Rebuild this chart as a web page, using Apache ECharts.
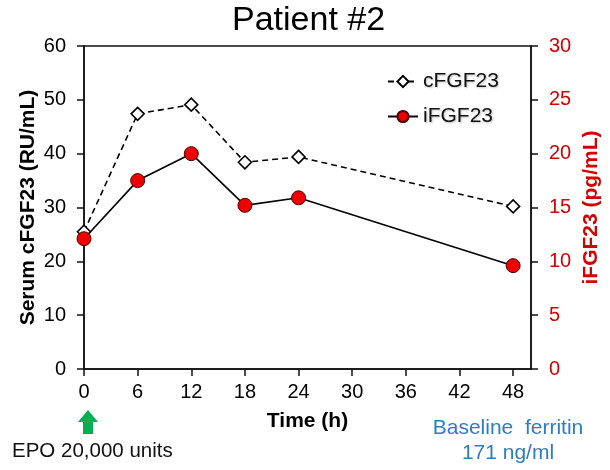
<!DOCTYPE html>
<html>
<head>
<meta charset="utf-8">
<script src="https://cdn.jsdelivr.net/npm/echarts@6/dist/echarts.min.js"></script>
<style>
html,body{margin:0;padding:0;background:#fff;}
#chart{width:610px;height:470px;}
</style>
</head>
<body>
<div id="chart"></div>
<script>
const hours = [0, 6, 12, 18, 24, 48];
const cFGF23 = [25.5, 47.4, 49.1, 38.4, 39.4, 30.2];
const iFGF23 = [12.1, 17.5, 20.0, 15.2, 15.9, 9.6];
const xTicks = [0, 6, 12, 18, 24, 30, 36, 42, 48];
const leftTicks = [0, 10, 20, 30, 40, 50, 60];
const rightTicks = [0, 5, 10, 15, 20, 25, 30];

const FONT = '"Liberation Sans", Arial, sans-serif';
const RED = '#d40000';
const chart = echarts.init(document.getElementById('chart'));

const axisLineStyle = { color: '#111', width: 1.5 };

chart.setOption({
  animation: false,
  backgroundColor: '#fff',
  title: {
    text: 'Patient #2',
    left: 232, top: 4, padding: 0,
    textStyle: { fontFamily: FONT, fontSize: 34, fontWeight: 'normal', color: '#000' }
  },
  grid: {
    left: 84, right: 78, top: 46, bottom: 101,
    show: true, borderColor: '#111', borderWidth: 1.5, backgroundColor: 'transparent'
  },
  legend: {
    orient: 'vertical',
    left: 382, top: 66,
    itemWidth: 30, itemHeight: 14, itemGap: 14,
    data: ['cFGF23', 'iFGF23'],
    textStyle: {
      fontFamily: FONT, fontSize: 21, color: '#111', lineHeight: 21,
      textShadowColor: 'rgba(0,0,0,0.25)', textShadowBlur: 2, textShadowOffsetX: 1, textShadowOffsetY: 1
    }
  },
  xAxis: {
    type: 'value', min: 0, max: 50, interval: 6,
    name: 'Time (h)', nameLocation: 'middle', nameGap: 42, nameMoveOverlap: false,
    nameTextStyle: { fontFamily: FONT, fontSize: 21, fontWeight: 'bold', color: '#000' },
    axisLine: { show: true, lineStyle: axisLineStyle },
    axisTick: { show: true, length: 7, lineStyle: axisLineStyle, customValues: xTicks },
    axisLabel: { fontFamily: FONT, fontSize: 20, color: '#000', margin: 13, customValues: xTicks },
    splitLine: { show: false }
  },
  yAxis: [
    {
      type: 'value', min: 0, max: 60, interval: 10, position: 'left',
      name: 'Serum cFGF23 (RU/mL)', nameLocation: 'middle', nameGap: 45, nameRotate: 90, nameMoveOverlap: false,
      nameTextStyle: { fontFamily: FONT, fontSize: 21, fontWeight: 'bold', color: '#000' },
      axisLine: { show: true, lineStyle: axisLineStyle },
      axisTick: { show: true, length: 7, lineStyle: axisLineStyle, customValues: leftTicks },
      axisLabel: { fontFamily: FONT, fontSize: 20, color: '#000', margin: 18, customValues: leftTicks },
      splitLine: { show: false }
    },
    {
      type: 'value', min: 0, max: 30, interval: 5, position: 'right',
      name: 'iFGF23 (pg/mL)', nameLocation: 'middle', nameGap: 50, nameRotate: 90, nameMoveOverlap: false,
      nameTextStyle: { fontFamily: FONT, fontSize: 21, fontWeight: 'bold', color: RED },
      axisLine: { show: true, lineStyle: axisLineStyle },
      axisTick: { show: true, length: 7, lineStyle: axisLineStyle, customValues: rightTicks },
      axisLabel: { fontFamily: FONT, fontSize: 20, color: RED, margin: 18, customValues: rightTicks },
      splitLine: { show: false }
    }
  ],
  series: [
    {
      name: 'cFGF23', type: 'line', yAxisIndex: 0,
      data: hours.map((h, i) => [h, cFGF23[i]]),
      symbol: 'diamond', symbolSize: 13,
      itemStyle: { color: '#fff', borderColor: '#000', borderWidth: 1.6 },
      lineStyle: { color: '#000', width: 1.6, type: [6, 4] },
      z: 2
    },
    {
      name: 'iFGF23', type: 'line', yAxisIndex: 1,
      data: hours.map((h, i) => [h, iFGF23[i]]),
      symbol: 'circle', symbolSize: 14,
      itemStyle: { color: '#ee0000', borderColor: '#4a0000', borderWidth: 1 },
      lineStyle: { color: '#000', width: 1.6 },
      z: 3
    }
  ],
  graphic: [
    {
      type: 'polygon',
      shape: { points: [[88, 410], [98, 422], [93, 422], [93, 434], [83, 434], [83, 422], [78, 422]] },
      style: { fill: '#00b050' }
    },
    {
      type: 'text', x: 12, y: 451,
      style: { text: 'EPO 20,000 units', font: '20.5px ' + FONT, fill: '#111', align: 'left', verticalAlign: 'middle' }
    },
    {
      type: 'text', x: 508, y: 428,
      style: { text: 'Baseline  ferritin', font: '21px ' + FONT, fill: '#2e7cc4', align: 'center', verticalAlign: 'middle' }
    },
    {
      type: 'text', x: 508, y: 453,
      style: { text: '171 ng/ml', font: '21px ' + FONT, fill: '#2e7cc4', align: 'center', verticalAlign: 'middle' }
    }
  ]
});
</script>
</body>
</html>
